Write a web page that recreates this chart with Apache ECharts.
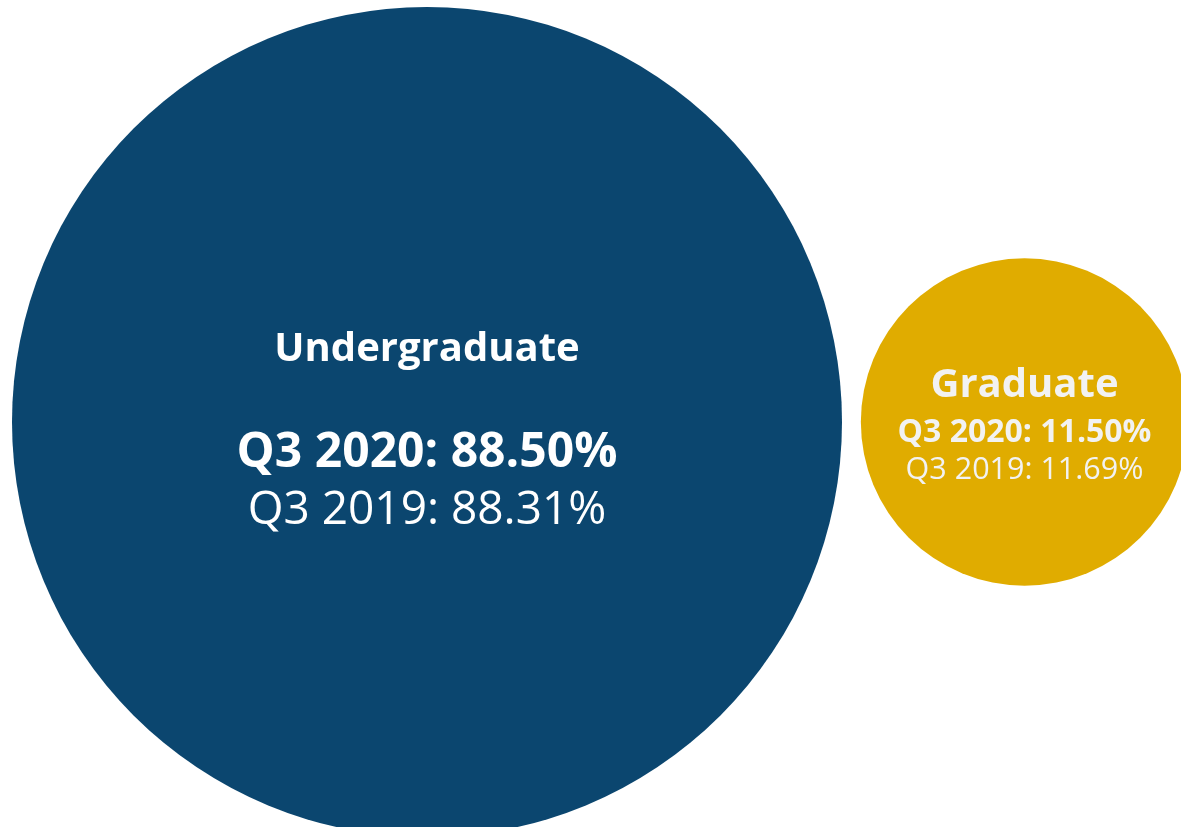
<!DOCTYPE html>
<html>
<head>
<meta charset="utf-8">
<script src="https://cdn.jsdelivr.net/npm/echarts@6/dist/echarts.min.js"></script>
<style>
  html, body { margin: 0; padding: 0; background: #fff; }
  #chart { width: 1181px; height: 827px; }
</style>
</head>
<body>
<div id="chart"></div>
<script>
// enrolment share by level
const categories = ["Undergraduate", "Graduate"];
const share2020 = [88.5, 11.5];
const share2019 = [88.31, 11.69];

const colors = ["#0B466F", "#E0AC00"];
const fmt = (v) => v.toFixed(2) + "%";

const chart = echarts.init(document.getElementById("chart"));

// per-bubble label styles (big one has a blank line under the title)
const labelFor = (i) => {
  if (i === 0) {
    return {
      show: true,
      position: "inside",
      offset: [0, 12],
      color: "#ffffff",
      fontFamily: "Open Sans",
      formatter:
        "{t|" + categories[i] + "}\n{gap|}\n{b|Q3 2020: " + fmt(share2020[i]) +
        "}\n{r|Q3 2019: " + fmt(share2019[i]) + "}",
      rich: {
        t: { fontSize: 40, fontWeight: "bold", lineHeight: 44, color: "#fff", fontFamily: "Open Sans" },
        gap: { fontSize: 10, lineHeight: 52 },
        b: { fontSize: 48, fontWeight: "bold", lineHeight: 58, color: "#fff", fontFamily: "Open Sans" },
        r: { fontSize: 46, lineHeight: 58, color: "#fff", fontFamily: "Open Sans" },
      },
    };
  }
  return {
    show: true,
    position: "inside",
    offset: [0, 1],
    color: "#F2F2F2",
    fontFamily: "Open Sans",
    formatter:
      "{t|" + categories[i] + "}\n{b|Q3 2020: " + fmt(share2020[i]) +
      "}\n{r|Q3 2019: " + fmt(share2019[i]) + "}",
    rich: {
      t: { fontSize: 40, fontWeight: "bold", lineHeight: 50, color: "#F2F2F2", fontFamily: "Open Sans" },
      b: { fontSize: 32, fontWeight: "bold", lineHeight: 44, color: "#F2F2F2", fontFamily: "Open Sans" },
      r: { fontSize: 30.5, lineHeight: 30, color: "#F2F2F2", fontFamily: "Open Sans" },
    },
  };
};

const option = {
  animation: false,
  backgroundColor: "#ffffff",
  grid: { left: 427, right: 156.5, top: 17, bottom: 0 },
  xAxis: { type: "category", data: categories, boundaryGap: false, show: false },
  yAxis: { type: "value", min: -1, max: 1, show: false },
  series: [
    {
      type: "scatter",
      symbol: "circle",
      // bubble diameter grows with the 2020 share
      symbolSize: (val, params) => 830 * Math.pow(share2020[params.dataIndex] / share2020[0], 0.456),
      data: categories.map((c, i) => ({
        value: [c, 0],
        itemStyle: { color: colors[i], opacity: 1 },
        label: labelFor(i),
      })),
      emphasis: { disabled: true },
    },
  ],
};

chart.setOption(option);
</script>
</body>
</html>
